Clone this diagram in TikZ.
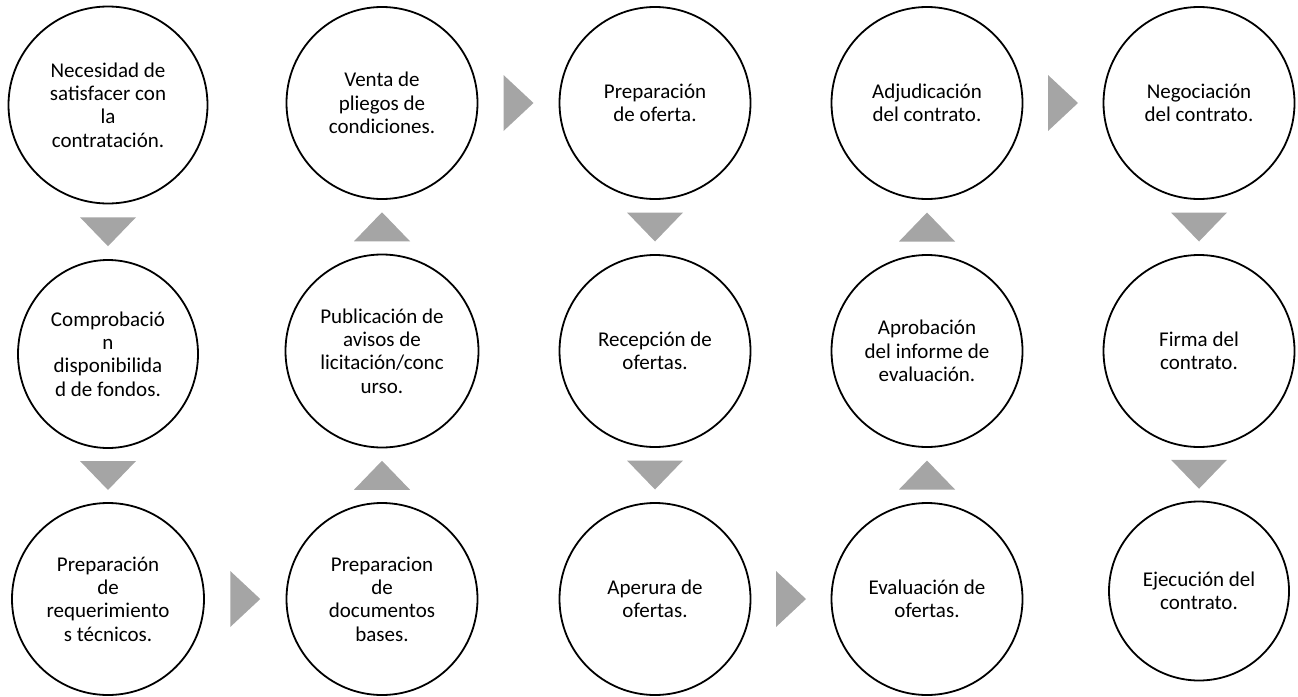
\documentclass[tikz,border=0pt]{standalone}
\usepackage{fontspec}
\setmainfont{Carlito}
\usetikzlibrary{calc,shapes.geometric}
\definecolor{trigray}{RGB}{165,165,165}
\tikzset{
  stage/.style={draw=black, line width=1.8pt, ellipse, inner sep=0pt,
    minimum width=192pt, minimum height=192pt, align=center,
    font=\fontsize{21}{23.3}\selectfont},
  tri/.style={fill=trigray, draw=none}
}
\newcommand{\downtri}[2]{\fill[tri] ($(#1.south)!0.5!(#2.north)$) ++(-28,-14.5) -- ++(56,0) -- ++(-28,29) -- cycle;}
\newcommand{\uptri}[2]{\fill[tri] ($(#1.north)!0.5!(#2.south)$) ++(-28,14.5) -- ++(56,0) -- ++(-28,-29) -- cycle;}
\newcommand{\righttri}[2]{\fill[tri] ($(#1.east)!0.5!(#2.west)$) ++(-15,-28) -- ++(0,56) -- ++(30,-28) -- cycle;}
\begin{document}
\begin{tikzpicture}[x=1pt,y=-1pt]
\useasboundingbox (0,0) rectangle (1298,696);
% row 1
\node[stage, minimum width=199pt, minimum height=197pt] (n1) at (108,105) {Necesidad de\\satisfacer con\\la\\contratación.};
\node[stage, minimum width=191pt] (n6) at (382,103) {Venta de\\pliegos de\\condiciones.};
\node[stage, minimum width=191pt] (n7) at (655,103) {Preparación\\de oferta.};
\node[stage, minimum width=191pt] (n12) at (927,103) {Adjudicación\\del contrato.};
\node[stage, minimum width=191pt] (n13) at (1199,103) {Negociación\\del contrato.};
% row 2
\node[stage, minimum width=180pt, minimum height=188pt] (n2) at (108,354) {Comprobació\\n\\disponibilida\\d de fondos.};
\node[stage, minimum width=193pt, minimum height=193pt] (n5) at (382,351) {Publicación de\\avisos de\\licitación/conc\\urso.};
\node[stage, minimum width=191pt] (n8) at (655,351) {Recepción de\\ofertas.};
\node[stage, minimum width=191pt] (n11) at (927,351) {Aprobación\\del informe de\\evaluación.};
\node[stage, minimum width=191pt] (n14) at (1199,351) {Firma del\\contrato.};
% row 3
\node[stage] (n3) at (108,599) {Preparación\\de\\requerimiento\\s técnicos.};
\node[stage, minimum width=191pt] (n4) at (382,599) {Preparacion\\de\\documentos\\bases.};
\node[stage, minimum width=191pt] (n9) at (655,599) {Aperura de\\ofertas.};
\node[stage, minimum width=191pt] (n10) at (927,599) {Evaluación de\\ofertas.};
\node[stage, minimum width=180pt, minimum height=179pt] (n15) at (1199,591) {Ejecución del\\contrato.};
% connectors
\downtri{n1}{n2}
\downtri{n2}{n3}
\righttri{n3}{n4}
\uptri{n4}{n5}
\uptri{n5}{n6}
\righttri{n6}{n7}
\downtri{n7}{n8}
\downtri{n8}{n9}
\righttri{n9}{n10}
\uptri{n10}{n11}
\uptri{n11}{n12}
\righttri{n12}{n13}
\downtri{n13}{n14}
\downtri{n14}{n15}
\end{tikzpicture}
\end{document}
